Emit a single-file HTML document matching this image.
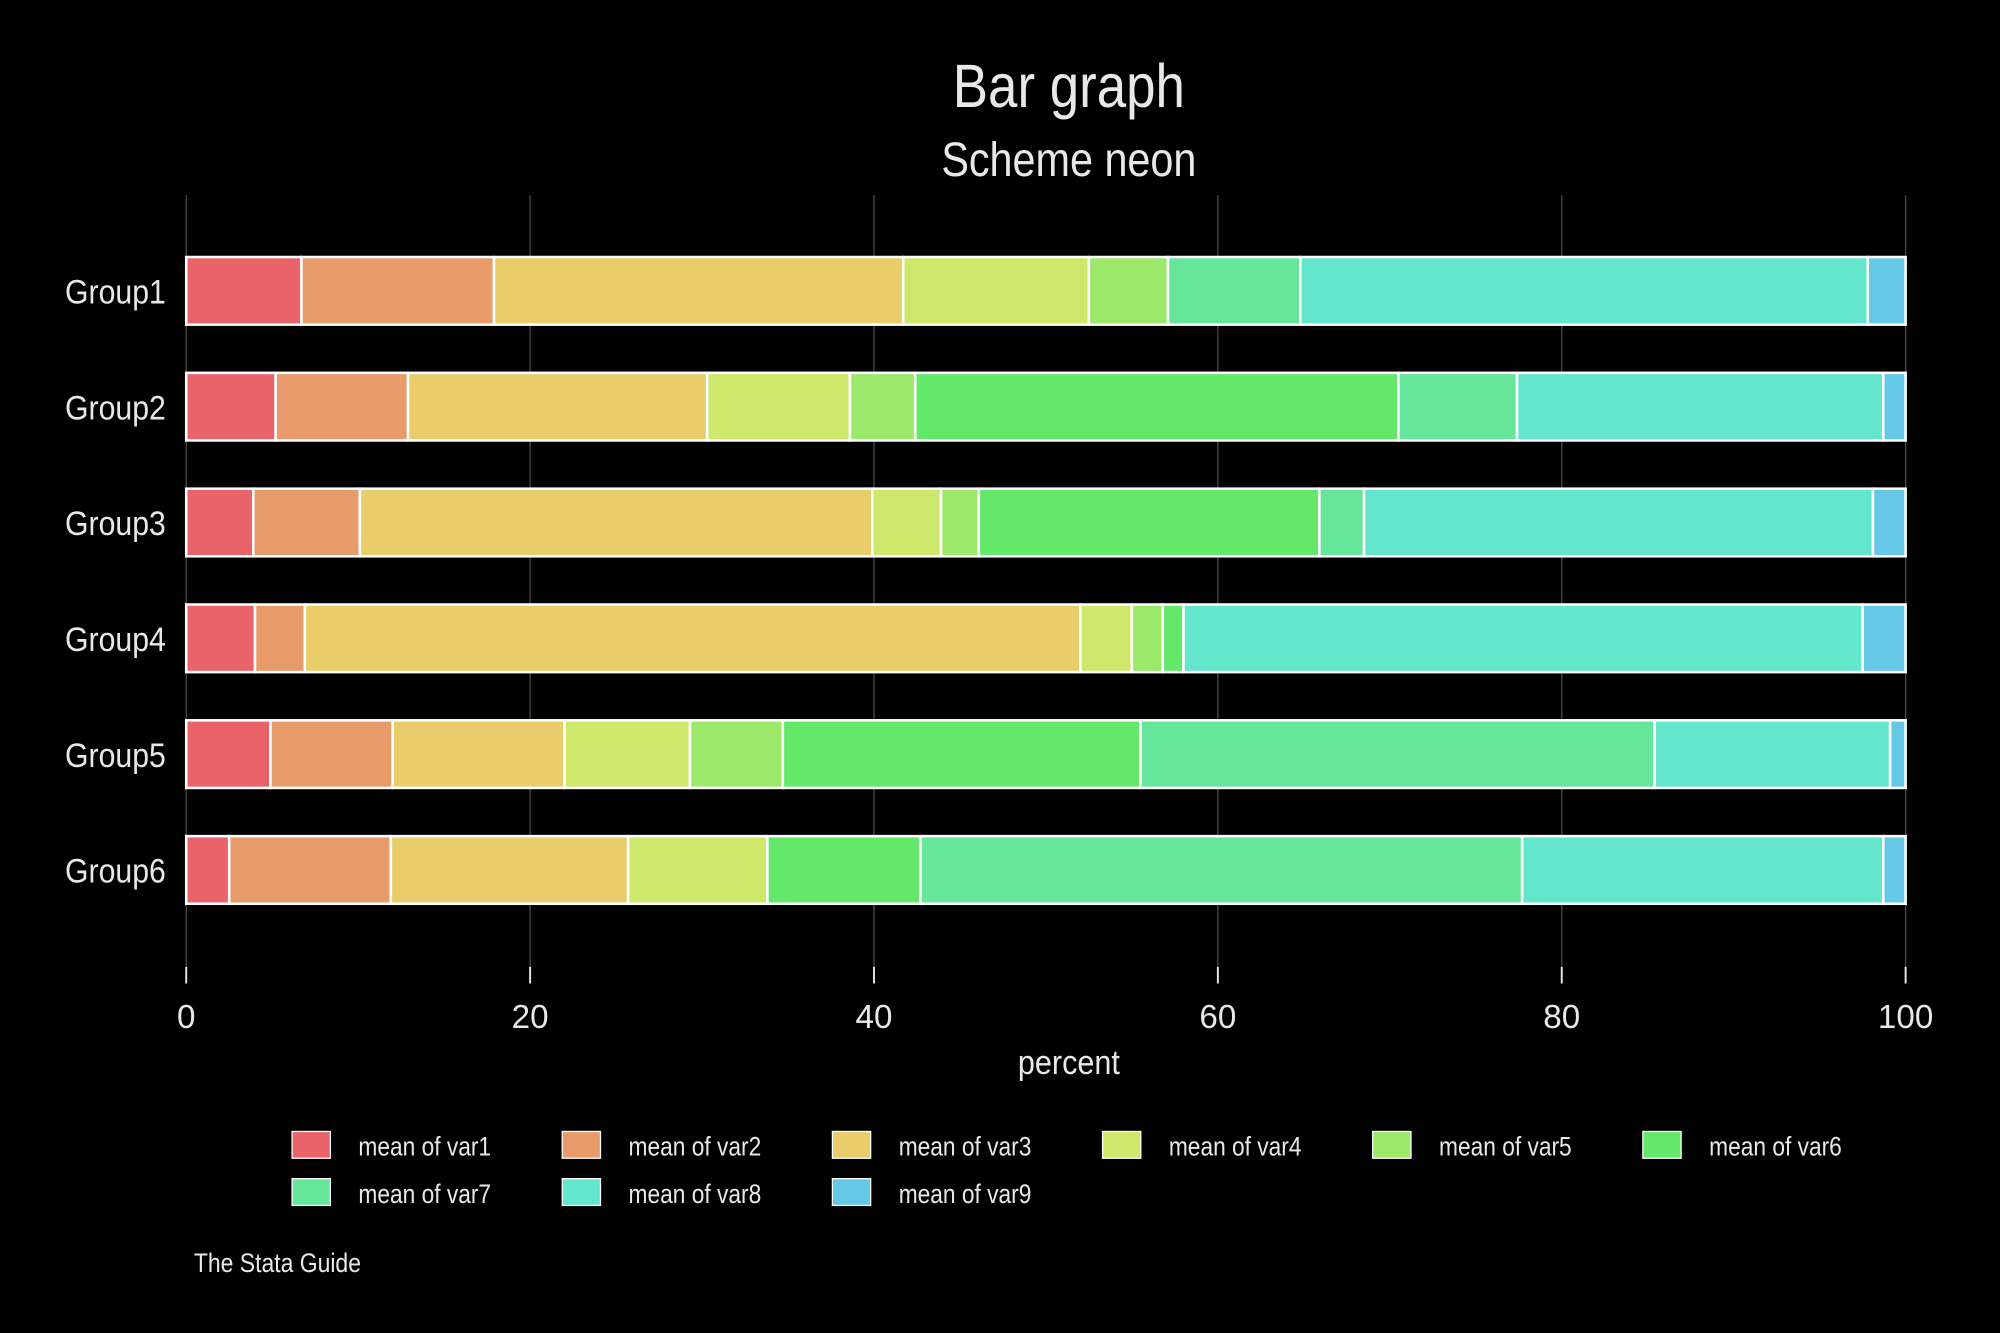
<!DOCTYPE html>
<html><head><meta charset="utf-8"><style>
html,body{margin:0;padding:0;background:#000;}
svg{display:block;font-family:"Liberation Sans Narrow","Liberation Sans",sans-serif;}
</style></head><body>
<svg id="chart" width="2000" height="1333" viewBox="0 0 1568 1045" preserveAspectRatio="none" xmlns="http://www.w3.org/2000/svg">
<rect width="1568" height="1045" fill="#000"/>
<text x="838" y="84" fill="#e8e8e8" font-size="48" text-anchor="middle" textLength="182" lengthAdjust="spacingAndGlyphs">Bar graph</text>
<text x="838" y="138" fill="#e8e8e8" font-size="38" text-anchor="middle" textLength="200" lengthAdjust="spacingAndGlyphs">Scheme neon</text>
<g id="grid"></g><g id="bars"></g><g id="axis"></g><g id="legend"></g>
<text x="838" y="842" fill="#e8e8e8" font-size="27" text-anchor="middle" textLength="80" lengthAdjust="spacingAndGlyphs">percent</text>
<text x="152" y="997" fill="#e8e8e8" font-size="21" textLength="131" lengthAdjust="spacingAndGlyphs">The Stata Guide</text>
</svg>
<script>
const groups=["Group1","Group2","Group3","Group4","Group5","Group6"];
const seriesNames=["mean of var1","mean of var2","mean of var3","mean of var4","mean of var5","mean of var6","mean of var7","mean of var8","mean of var9"];
const var1=[6.7,5.2,3.9,4.0,4.9,2.5];
const var2=[11.2,7.7,6.2,2.9,7.1,9.4];
const var3=[23.8,17.4,29.8,45.1,10.0,13.8];
const var4=[10.8,8.3,4.0,3.0,7.3,8.1];
const var5=[4.6,3.8,2.2,1.8,5.4,0];
const var6=[0,28.1,19.8,1.2,20.8,8.9];
const var7=[7.7,6.9,2.6,0,29.9,35.0];
const var8=[33.0,21.3,29.6,39.5,13.7,21.0];
const var9=[2.2,1.3,1.9,2.5,0.9,1.3];
const xTicks=[0,20,40,60,80,100];
const colors=["#e8636a","#e89b6a","#e8cd6a","#cde86a","#9be86a","#63e86a","#66e69b","#64e6cc","#64c8e6"];
const series=[var1,var2,var3,var4,var5,var6,var7,var8,var9];
const NS="http://www.w3.org/2000/svg";
const X0=146,X1=1494;
const xs=v=>X0+(X1-X0)*v/100;
const ys=i=>228+i*90.8;
const BH=53;
function mk(tag,attrs,parent){const e=document.createElementNS(NS,tag);for(const k in attrs)e.setAttribute(k,attrs[k]);parent.appendChild(e);return e;}
const grid=document.getElementById('grid'),axis=document.getElementById('axis'),bars=document.getElementById('bars'),legend=document.getElementById('legend');
xTicks.forEach(t=>{
  const g=mk('line',{x1:xs(t),x2:xs(t),y1:153,y2:760,stroke:'#4a4a4a','stroke-width':1},grid);
  
  
  const tk=mk('line',{x1:xs(t),x2:xs(t),y1:758,y2:771,stroke:'#e8e8e8','stroke-width':1.5},axis);
  
  
  const lb=mk('text',{x:xs(t),y:806,fill:'#e8e8e8','font-size':26,'text-anchor':'middle'},axis);
  lb.textContent=t;
  
  
});
groups.forEach((g,i)=>{
  const lb=mk('text',{x:130,y:ys(i)+10,fill:'#e8e8e8','font-size':27,'text-anchor':'end',textLength:79,lengthAdjust:'spacingAndGlyphs'},axis);
  lb.textContent=g;
  
  
  let tot=0;series.forEach(s=>tot+=s[i]);
  let cum=0;
  series.forEach((s,k)=>{
    const v=s[i]/tot*100;
    if(v<=0)return;
    const r=mk('rect',{x:xs(cum),y:ys(i)-BH/2,width:xs(cum+v)-xs(cum),height:BH,fill:colors[k],stroke:'#ffffff','stroke-width':2},bars);
    
    
    cum+=v;
  });
});
seriesNames.forEach((n,k)=>{
  const col=k%6,row=Math.floor(k/6);
  const x=229+col*211.8,y=887+row*37;
  const sw=mk('rect',{x:x,y:y,width:30,height:21,fill:colors[k],stroke:'#ffffff','stroke-width':1},legend);
  
  
  const t=mk('text',{x:x+52,y:y+19,fill:'#e8e8e8','font-size':21,textLength:104,lengthAdjust:'spacingAndGlyphs'},legend);
  t.textContent=n;
  
  
});
</script>
</body></html>
